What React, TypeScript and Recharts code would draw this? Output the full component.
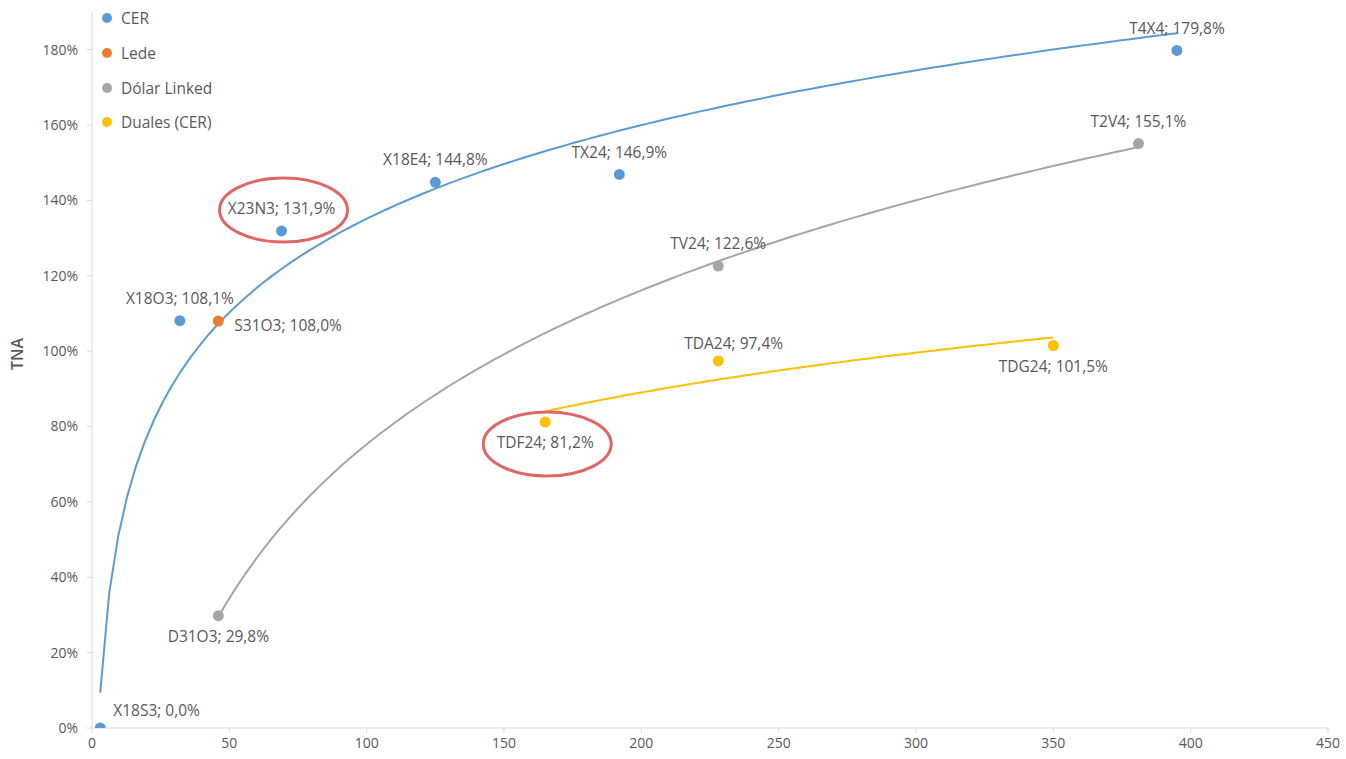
import React from 'react';
import { ScatterChart, Scatter, XAxis, YAxis } from 'recharts';

type Point = { name: string; x: number; y: number };

// Días al vencimiento (x) y TNA (y) por instrumento
const cer: Point[] = [
  { name: 'X18S3', x: 3, y: 0.0 },
  { name: 'X18O3', x: 32, y: 1.081 },
  { name: 'X23N3', x: 69, y: 1.319 },
  { name: 'X18E4', x: 125, y: 1.448 },
  { name: 'TX24', x: 192, y: 1.469 },
  { name: 'T4X4', x: 395, y: 1.798 },
];

const lede: Point[] = [{ name: 'S31O3', x: 46, y: 1.08 }];

const dolarLinked: Point[] = [
  { name: 'D31O3', x: 46, y: 0.298 },
  { name: 'TV24', x: 228, y: 1.226 },
  { name: 'T2V4', x: 381, y: 1.551 },
];

const duales: Point[] = [
  { name: 'TDF24', x: 165, y: 0.812 },
  { name: 'TDA24', x: 228, y: 0.974 },
  { name: 'TDG24', x: 350, y: 1.015 },
];

const xTicks = [0, 50, 100, 150, 200, 250, 300, 350, 400, 450];
const yTicks = [0, 0.2, 0.4, 0.6, 0.8, 1.0, 1.2, 1.4, 1.6, 1.8];

// ubicación de cada etiqueta respecto del punto
const labelSide: Record<string, 'top' | 'bottom' | 'right' | 'topRight'> = {
  X18S3: 'topRight',
  X18O3: 'top',
  X23N3: 'top',
  X18E4: 'top',
  TX24: 'top',
  T4X4: 'top',
  S31O3: 'right',
  D31O3: 'bottom',
  TV24: 'top',
  T2V4: 'top',
  TDF24: 'bottom',
  TDA24: 'topRight',
  TDG24: 'bottom',
};

// etiquetas resaltadas con un óvalo rojo
const circled = ['X23N3', 'TDF24'];

const COLORS = {
  cer: '#5B9BD5',
  lede: '#ED7D31',
  dl: '#A5A5A5',
  duales: '#FFC000',
};

const FONT = '"Open Sans", "Noto Sans", sans-serif';
const TEXT = '#595959';
const AXIS = '#D9D9D9';

// tendencia logarítmica (mínimos cuadrados) como en Excel
const logTrend = (pts: Point[], steps = 120) => {
  const lx = pts.map((p) => Math.log(p.x));
  const n = pts.length;
  const mx = lx.reduce((a, b) => a + b, 0) / n;
  const my = pts.reduce((a, p) => a + p.y, 0) / n;
  let sxy = 0;
  let sxx = 0;
  lx.forEach((v, i) => {
    sxy += (v - mx) * (pts[i].y - my);
    sxx += (v - mx) * (v - mx);
  });
  const b = sxy / sxx;
  const a = my - b * mx;
  const x0 = Math.min(...pts.map((p) => p.x));
  const x1 = Math.max(...pts.map((p) => p.x));
  const out: { x: number; y: number }[] = [];
  for (let i = 0; i <= steps; i++) {
    const x = x0 + ((x1 - x0) * i) / steps;
    out.push({ x, y: a + b * Math.log(x) });
  }
  return out;
};

const fmtPct = (v: number) => `${(v * 100).toFixed(1).replace('.', ',')}%`;

const makeDot = (color: string) => (props: any) => {
  const { cx, cy, payload } = props;
  if (cx == null || cy == null) return <g />;
  const text = `${payload.name}; ${fmtPct(payload.y)}`;
  const side = labelSide[payload.name] || 'top';
  let tx = cx;
  let ty = cy - 21;
  let anchor: 'middle' | 'start' = 'middle';
  if (side === 'bottom') ty = cy + 22;
  if (side === 'right') {
    tx = cx + 16;
    ty = cy + 6;
    anchor = 'start';
  }
  if (side === 'topRight') {
    tx = cx + (payload.y === 0 ? 13 : -34);
    ty = cy - 16;
    anchor = 'start';
  }
  const ex = anchor === 'start' ? tx + 55 : tx + 2;
  return (
    <g>
      <circle cx={cx} cy={cy} r={5.5} fill={color} />
      <text
        x={tx}
        y={ty}
        textAnchor={anchor}
        dominantBaseline="middle"
        fontFamily={FONT}
        fontSize={15.5}
        fill={TEXT}
      >
        {text}
      </text>
      {circled.includes(payload.name) && (
        <ellipse
          cx={ex}
          cy={ty}
          rx={64}
          ry={32}
          fill="none"
          stroke="#E06666"
          strokeWidth={3}
        />
      )}
    </g>
  );
};

const noDot = () => <g />;

const legendItems = [
  { label: 'CER', color: COLORS.cer },
  { label: 'Lede', color: COLORS.lede },
  { label: 'Dólar Linked', color: COLORS.dl },
  { label: 'Duales (CER)', color: COLORS.duales },
];

const App: React.FC = () => {
  return (
    <div style={{ position: 'absolute', left: 0, top: 0, background: '#fff' }}>
      <ScatterChart
        width={1346}
        height={759}
        margin={{ top: 12, right: 18, bottom: 0, left: 0 }}
      >
        <XAxis
          type="number"
          dataKey="x"
          domain={[0, 450]}
          ticks={xTicks}
          allowDataOverflow
          height={31}
          stroke={AXIS}
          tickSize={5}
          tickMargin={5}
          tick={{ fill: TEXT, fontSize: 14, fontFamily: FONT }}
        />
        <YAxis
          type="number"
          dataKey="y"
          domain={[0, 1.9]}
          ticks={yTicks}
          allowDataOverflow
          width={92}
          stroke={AXIS}
          tickSize={5}
          tickMargin={9}
          tickFormatter={(v: number) => `${Math.round(v * 100)}%`}
          tick={{ fill: TEXT, fontSize: 14, fontFamily: FONT }}
          label={{
            value: 'TNA',
            angle: -90,
            position: 'insideLeft',
            offset: 17,
            fill: TEXT,
            fontSize: 16,
            fontWeight: 600,
            fontFamily: FONT,
          }}
        />
        {/* líneas de tendencia */}
        <Scatter
          data={logTrend(cer)}
          line={{ stroke: COLORS.cer, strokeWidth: 2 }}
          shape={noDot}
          isAnimationActive={false}
        />
        <Scatter
          data={logTrend(dolarLinked)}
          line={{ stroke: COLORS.dl, strokeWidth: 2 }}
          shape={noDot}
          isAnimationActive={false}
        />
        <Scatter
          data={logTrend(duales)}
          line={{ stroke: COLORS.duales, strokeWidth: 2 }}
          shape={noDot}
          isAnimationActive={false}
        />
        {/* puntos */}
        <Scatter data={cer} shape={makeDot(COLORS.cer)} isAnimationActive={false} />
        <Scatter data={lede} shape={makeDot(COLORS.lede)} isAnimationActive={false} />
        <Scatter data={dolarLinked} shape={makeDot(COLORS.dl)} isAnimationActive={false} />
        <Scatter data={duales} shape={makeDot(COLORS.duales)} isAnimationActive={false} />
      </ScatterChart>
      {/* leyenda dentro del área del gráfico */}
      <div style={{ position: 'absolute', left: 102, top: 1 }}>
        {legendItems.map((it) => (
          <div
            key={it.label}
            style={{
              display: 'flex',
              alignItems: 'center',
              height: 34.7,
              fontFamily: FONT,
              fontSize: 15.5,
              color: TEXT,
            }}
          >
            <span
              style={{
                display: 'inline-block',
                width: 10,
                height: 10,
                borderRadius: 5,
                background: it.color,
                marginRight: 9,
              }}
            />
            {it.label}
          </div>
        ))}
      </div>
    </div>
  );
};

export default App;
